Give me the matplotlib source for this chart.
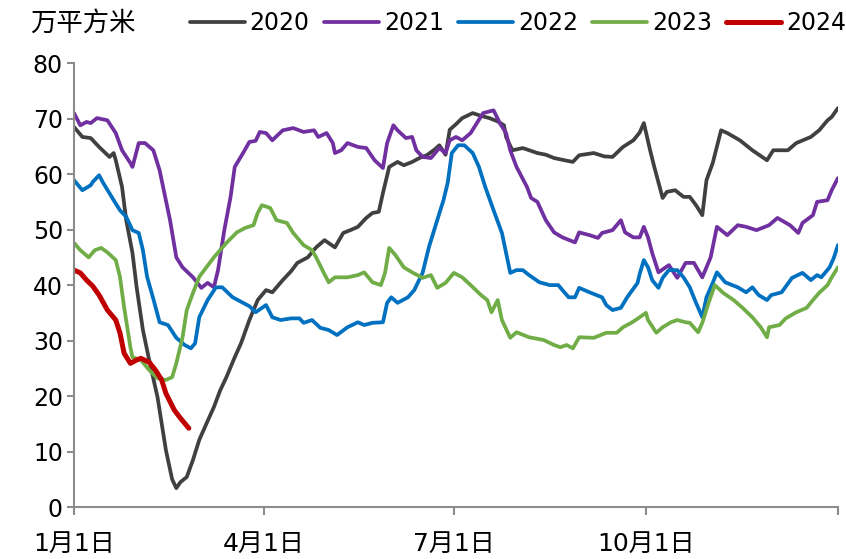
import matplotlib
matplotlib.use('Agg')
import matplotlib.pyplot as plt

# 各年份数据：横轴为当年第几天，纵轴为面积（万平方米）
days_2020 = [0, 4, 8, 12, 17, 19, 20, 23, 25, 28, 30, 33, 36, 40, 44, 47, 49, 51, 54, 57,
             60, 64, 67, 70, 73, 77, 80, 84, 86, 88, 92, 95, 100, 104, 107, 112, 116, 120, 125, 129,
             133, 136, 140, 143, 146, 148, 151, 155, 158, 162, 166, 169, 173, 175, 178, 180, 183, 186, 191, 195,
             199, 203, 206, 207, 210, 215, 222, 226, 230, 235, 239, 242, 249, 254, 258, 263, 268, 271, 273, 276,
             278, 282, 284, 288, 292, 295, 298, 301, 303, 306, 310, 313, 319, 325, 332, 335, 342, 346, 353, 357,
             361, 363, 366]
vals_2020 = [68.5, 66.7, 66.5, 64.9, 63.1, 63.8, 62.5, 57.7, 51.7, 45.8, 39.6, 31.9, 26.5, 19.8, 10.3, 5.0, 3.4, 4.5, 5.4, 8.5,
             12.1, 15.5, 18.0, 21.0, 23.4, 27.0, 29.5, 33.7, 35.5, 37.3, 39.1, 38.7, 40.9, 42.5, 44.0, 45.0, 46.8, 48.1, 46.8, 49.4,
             50.0, 50.5, 52.1, 53.0, 53.2, 56.6, 61.3, 62.2, 61.6, 62.2, 63.0, 63.4, 64.5, 65.2, 63.5, 68.0, 69.0, 70.1, 71.0, 70.5,
             70.1, 69.5, 68.8, 66.7, 64.3, 64.7, 63.8, 63.5, 62.9, 62.5, 62.2, 63.4, 63.8, 63.2, 63.1, 64.9, 66.1, 67.5, 69.2, 64.3,
             61.3, 55.7, 56.8, 57.1, 55.9, 55.9, 54.4, 52.6, 58.9, 62.0, 67.9, 67.4, 66.1, 64.3, 62.5, 64.3, 64.3, 65.6, 66.7, 67.9,
             69.7, 70.3, 71.9]

days_2021 = [0, 3, 6, 8, 11, 16, 20, 23, 27, 28, 31, 34, 38, 41, 44, 46, 49, 52, 57, 61,
             64, 67, 69, 72, 75, 77, 81, 84, 87, 89, 92, 95, 100, 105, 110, 115, 117, 121, 124, 125,
             128, 131, 136, 140, 144, 148, 150, 153, 155, 159, 162, 164, 167, 171, 175, 178, 180, 183, 186, 190,
             193, 196, 201, 204, 207, 209, 212, 217, 219, 222, 226, 230, 234, 240, 242, 247, 251, 253, 258, 262,
             264, 268, 271, 273, 275, 277, 280, 285, 289, 293, 297, 301, 305, 308, 313, 318, 322, 327, 331, 333,
             337, 343, 347, 349, 354, 356, 361, 363, 366]
vals_2021 = [71.0, 68.8, 69.4, 69.2, 70.1, 69.7, 67.4, 64.3, 62.0, 61.3, 65.6, 65.6, 64.3, 60.7, 55.3, 51.7, 45.0, 43.2, 41.4, 39.5,
             40.4, 39.6, 42.7, 49.9, 55.9, 61.3, 63.8, 65.8, 66.0, 67.6, 67.4, 66.1, 67.9, 68.3, 67.6, 67.9, 66.7, 67.4, 65.6, 63.8,
             64.3, 65.6, 64.9, 64.7, 62.5, 61.1, 65.6, 68.8, 67.9, 66.5, 66.7, 64.3, 63.1, 62.9, 64.7, 63.8, 66.1, 66.7, 66.1, 67.4,
             69.2, 71.0, 71.5, 69.2, 67.4, 64.3, 61.3, 57.7, 55.7, 55.0, 51.7, 49.5, 48.6, 47.7, 49.5, 49.0, 48.5, 49.4, 49.9, 51.7,
             49.5, 48.6, 48.6, 50.5, 48.6, 45.8, 42.3, 43.6, 41.3, 44.0, 44.0, 41.4, 45.0, 50.5, 49.0, 50.8, 50.5, 49.9, 50.5, 50.8,
             52.1, 50.8, 49.4, 51.2, 52.6, 55.0, 55.3, 57.1, 59.3]

days_2022 = [0, 4, 8, 9, 12, 14, 19, 22, 25, 28, 31, 33, 35, 38, 41, 45, 49, 53, 56, 58,
             60, 64, 68, 71, 76, 81, 84, 87, 92, 95, 99, 104, 108, 110, 114, 118, 122, 126, 131, 136,
             139, 143, 148, 150, 152, 155, 160, 163, 167, 170, 174, 177, 179, 181, 184, 187, 191, 194, 197, 201,
             205, 207, 209, 212, 215, 218, 223, 228, 232, 234, 237, 240, 242, 247, 253, 255, 258, 262, 265, 270,
             271, 273, 275, 277, 280, 282, 285, 289, 292, 295, 298, 301, 303, 306, 308, 312, 318, 322, 325, 328,
             332, 334, 339, 344, 349, 353, 356, 358, 362, 364, 366]
vals_2022 = [58.9, 57.1, 58.0, 58.6, 59.8, 58.4, 55.3, 53.5, 52.3, 49.9, 49.4, 46.3, 41.5, 37.5, 33.3, 32.8, 30.5, 29.2, 28.6, 29.5,
             34.2, 37.3, 39.6, 39.6, 37.8, 36.8, 36.2, 35.1, 36.4, 34.2, 33.7, 34.0, 34.0, 33.2, 33.7, 32.3, 31.9, 31.0, 32.4, 33.3,
             32.8, 33.2, 33.3, 36.8, 37.8, 36.8, 37.8, 39.1, 42.2, 46.8, 51.7, 55.3, 58.4, 63.8, 65.2, 65.2, 63.8, 61.3, 57.7, 53.5,
             49.4, 45.8, 42.2, 42.7, 42.7, 41.8, 40.5, 40.0, 40.0, 39.1, 37.8, 37.8, 39.5, 38.7, 37.8, 36.4, 35.5, 35.9, 37.8, 40.4,
             42.0, 44.5, 43.2, 40.9, 39.5, 41.3, 42.7, 42.7, 41.4, 39.6, 36.8, 34.2, 37.8, 40.4, 42.3, 40.5, 39.6, 38.7, 39.6, 38.2,
             37.3, 38.2, 38.7, 41.3, 42.2, 40.9, 41.8, 41.4, 43.2, 44.9, 47.2]

days_2023 = [0, 3, 7, 10, 13, 16, 20, 22, 24, 27, 28, 32, 36, 40, 44, 47, 49, 52, 54, 57,
             60, 64, 67, 73, 78, 82, 86, 88, 90, 94, 97, 102, 105, 110, 114, 116, 119, 122, 125, 131,
             136, 139, 143, 147, 149, 151, 154, 158, 162, 167, 171, 174, 178, 182, 186, 190, 195, 198, 200, 203,
             205, 209, 212, 218, 225, 230, 233, 236, 239, 242, 249, 255, 260, 263, 267, 271, 274, 275, 279, 282,
             286, 289, 293, 295, 299, 301, 304, 307, 311, 316, 320, 325, 329, 332, 333, 338, 341, 346, 351, 354,
             357, 361, 363, 366]
vals_2023 = [47.6, 46.3, 45.0, 46.3, 46.7, 45.9, 44.5, 41.5, 36.0, 28.8, 27.0, 26.5, 24.7, 23.2, 22.9, 23.4, 25.9, 30.6, 35.5, 38.6,
             41.5, 43.5, 45.0, 47.6, 49.5, 50.3, 50.8, 53.0, 54.4, 53.9, 51.7, 51.2, 49.4, 47.2, 46.3, 45.0, 42.7, 40.5, 41.4, 41.4,
             41.8, 42.3, 40.5, 40.0, 42.2, 46.7, 45.4, 43.2, 42.3, 41.3, 41.8, 39.5, 40.4, 42.2, 41.4, 40.0, 38.2, 37.3, 35.1, 37.3,
             33.7, 30.5, 31.5, 30.6, 30.1, 29.2, 28.8, 29.2, 28.6, 30.6, 30.5, 31.4, 31.4, 32.4, 33.2, 34.2, 35.0, 33.7, 31.4, 32.4,
             33.3, 33.7, 33.3, 33.2, 31.5, 33.2, 36.8, 40.0, 38.6, 37.3, 36.0, 34.2, 32.4, 30.6, 32.4, 32.8, 34.0, 35.1, 35.9, 37.3,
             38.6, 40.0, 41.4, 43.2]

days_2024 = [0, 3, 6, 9, 12, 16, 20, 22, 24, 27, 30, 32, 36, 39, 42, 44, 48, 51, 55]
vals_2024 = [42.7, 42.2, 40.9, 39.8, 38.2, 35.5, 33.7, 31.4, 27.7, 25.9, 26.5, 26.8, 26.1, 24.7, 22.9, 20.5, 17.5, 16.0, 14.2]

years = ['2020', '2021', '2022', '2023', '2024']
colors = ['#404040', '#7030A0', '#0070C0', '#70AD47', '#C00000']

tick_days = [0, 91, 182, 274, 366]
tick_labels = ['1月1日', '4月1日', '7月1日', '10月1日', '']

plt.rcParams['font.family'] = ['DejaVu Sans', 'Noto Sans CJK SC']

fig = plt.figure(figsize=(8.46, 5.59), dpi=100)
ax = fig.add_axes([0.0875, 0.093, 0.9030, 0.794])

series = [(days_2020, vals_2020), (days_2021, vals_2021), (days_2022, vals_2022),
          (days_2023, vals_2023), (days_2024, vals_2024)]
for (d, v), name, c in zip(series, years, colors):
    lw = 3.6 if name == '2024' else 2.7
    ax.plot(d, v, color=c, lw=lw, label=name, solid_capstyle='round', solid_joinstyle='round')

ax.set_xlim(0, 366)
ax.set_ylim(0, 80)
ax.set_yticks(range(0, 81, 10))
ax.set_xticks(tick_days)
ax.set_xticklabels(tick_labels)

axis_gray = '#8C8C8C'
for side in ['top', 'right']:
    ax.spines[side].set_visible(False)
for side in ['left', 'bottom']:
    ax.spines[side].set_color(axis_gray)
    ax.spines[side].set_linewidth(1.5)
ax.tick_params(axis='y', direction='out', length=5, width=1.5, color=axis_gray,
               labelsize=17, pad=3)
ax.tick_params(axis='x', direction='out', length=6, width=1.5, color=axis_gray,
               labelsize=18, pad=12)

# 单位与图例
fig.text(0.035, 0.958, '万平方米', fontsize=19, va='center', ha='left',
         family=['Noto Sans CJK SC'])
fig.legend(loc='center left', bbox_to_anchor=(0.2246, 0.958), ncol=5, frameon=False,
           fontsize=17, handlelength=2.33, handletextpad=0.2, columnspacing=0.61,
           borderaxespad=0, borderpad=0)

fig.savefig('out.png', dpi=100)
